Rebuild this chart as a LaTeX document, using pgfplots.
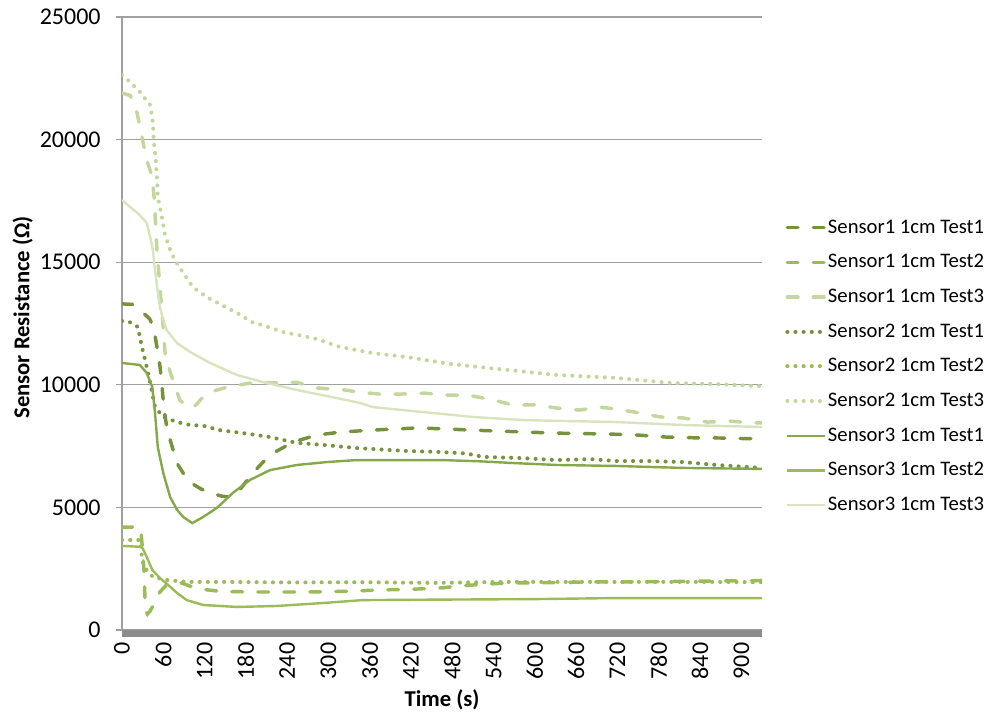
\documentclass[border=0pt]{standalone}
\usepackage{fontspec}
\setmainfont{Carlito}
\usepackage{pgfplots}
\pgfplotsset{compat=1.18}
\definecolor{gdark}{HTML}{76923C}
\definecolor{gmid}{HTML}{9BBB59}
\definecolor{glight}{HTML}{C3D69B}
\definecolor{gsol}{HTML}{84A84A}
\definecolor{gpale}{HTML}{D7E4BD}
\definecolor{gridc}{HTML}{A0A0A0}
\definecolor{barc}{HTML}{8C8C8C}
\begin{document}
\begin{tikzpicture}
\begin{axis}[
  scale only axis, width=480pt, height=459.75pt,
  xmin=0, xmax=930, ymin=0, ymax=25000,
  xtick={0,60,...,900}, ytick={0,5000,...,25000},
  axis x line*=bottom, axis y line*=left,
  x axis line style={draw=none},
  y axis line style={gridc, line width=1pt, -},
  ymajorgrids, grid style={gridc, line width=1pt},
  tick align=outside, major tick length=4.5pt,
  ytick style={gridc, line width=1pt},
  xtick style={draw=none},
  /pgf/number format/assume math mode=true,
  scaled y ticks=false, yticklabel style={/pgf/number format/1000 sep={}, font=\fontsize{18}{18}\selectfont, xshift=-8pt},
  xticklabel style={rotate=90, anchor=east, font=\fontsize{18}{18}\selectfont, xshift=-1.5pt},
  xlabel={\textbf{Time (s)}}, ylabel={\textbf{Sensor Resistance (Ω)}},
  xlabel style={at={(axis description cs:0.5,-0.1142)}, anchor=center, font=\fontsize{17}{17}\selectfont},
  ylabel style={at={(axis description cs:-0.155,0.51)}, anchor=center, font=\fontsize{17}{17}\selectfont},
  legend style={at={(axis description cs:1.036,0.43)}, anchor=west, draw=none, fill=none,
    font=\fontsize{15.5}{15.5}\selectfont, inner sep=0pt,
    nodes={inner sep=1pt, text height=11pt, text depth=3pt}, row sep=10pt},
  legend cell align=left,
  legend image code/.code={\draw[#1] (0pt,0pt) -- (28pt,0pt);},
  dsh/.style={line width=2.6pt, line cap=round, dash pattern=on 8pt off 11.5pt},
  dtt/.style={line width=3pt, line cap=round, dash pattern=on 0.1pt off 6pt},
  sld/.style={line width=1.8pt},
  after end axis/.append code={\fill[barc] (rel axis cs:0,0) rectangle ([yshift=-5.25pt]rel axis cs:1,0);},
]
\addplot[dsh, gdark] coordinates {(0,13300)(15,13280)(25,13050)(32,12900)(40,12700)(45,12400)(48,12000)(51,11500)(55,10800)(58,10000)(61,9000)(65,8300)(70,7750)(80,6800)(90,6350)(100,6000)(115,5750)(128,5590)(145,5460)(157,5420)(172,5750)(190,6400)(205,6850)(220,7220)(249,7670)(283,7950)(317,8070)(350,8130)(390,8190)(430,8240)(470,8200)(510,8150)(560,8100)(600,8060)(630,8030)(670,8010)(710,7990)(750,7950)(790,7870)(830,7840)(870,7830)(930,7790)};
\addlegendentry{Sensor1 1cm Test1}
\addplot[dsh, gmid] coordinates {(0,4200)(26,4200)(28,3900)(30,3200)(32,2400)(34,800)(37,650)(41,780)(47,1100)(55,1550)(65,1850)(75,1960)(85,1930)(100,1780)(120,1650)(145,1570)(200,1550)(270,1550)(330,1580)(370,1630)(420,1660)(466,1720)(490,1800)(530,1870)(560,1920)(620,1930)(680,1960)(740,1960)(800,1980)(860,2000)(930,2020)};
\addlegendentry{Sensor1 1cm Test2}
\addplot[dsh, glight] coordinates {(0,21900)(12,21800)(22,21080)(29,20100)(36,19170)(44,18470)(47,17530)(49,16430)(51,15400)(54,14390)(57,13330)(60,12310)(63,11130)(74,10190)(84,9380)(95,9100)(103,9050)(123,9660)(152,9900)(186,10070)(225,10080)(254,10100)(283,9870)(321,9800)(341,9710)(375,9620)(404,9620)(440,9660)(472,9580)(503,9580)(539,9380)(568,9180)(603,9180)(632,9050)(665,8970)(694,9090)(719,9010)(753,8850)(782,8690)(815,8650)(851,8480)(883,8520)(917,8440)(930,8450)};
\addlegendentry{Sensor1 1cm Test3}
\addplot[dtt, gdark] coordinates {(0,12600)(11,12560)(23,12360)(29,11540)(36,10720)(41,10070)(48,9090)(60,8690)(80,8480)(99,8360)(118,8330)(142,8150)(176,8030)(215,7870)(254,7630)(292,7550)(341,7420)(365,7380)(414,7300)(462,7260)(500,7200)(525,7060)(582,7010)(632,6930)(680,6970)(719,6890)(767,6890)(815,6850)(864,6730)(930,6610)};
\addlegendentry{Sensor2 1cm Test1}
\addplot[dtt, gmid] coordinates {(0,3670)(26,3670)(29,3000)(32,2570)(45,2160)(65,2040)(94,1960)(150,1960)(250,1940)(350,1950)(450,1920)(550,1960)(650,1960)(750,1960)(850,1960)(930,1950)};
\addlegendentry{Sensor2 1cm Test2}
\addplot[dtt, glight] coordinates {(0,22630)(12,22350)(26,21940)(41,21410)(45,20680)(46,19980)(49,19170)(51,18350)(52,17660)(58,16840)(62,16190)(70,15500)(77,15090)(89,14560)(103,13990)(123,13580)(145,13250)(167,12930)(189,12560)(212,12360)(234,12150)(256,12030)(283,11870)(317,11540)(365,11290)(414,11130)(477,10850)(535,10680)(632,10400)(719,10280)(800,10070)(864,10030)(920,9950)(930,9950)};
\addlegendentry{Sensor2 1cm Test3}
\addplot[sld, gsol] coordinates {(0,10890)(26,10810)(36,10480)(44,9910)(48,8850)(52,7460)(60,6400)(70,5420)(80,4900)(89,4610)(102,4360)(118,4610)(138,4980)(161,5590)(186,6120)(215,6520)(254,6730)(298,6850)(341,6930)(400,6930)(465,6930)(520,6880)(568,6810)(632,6730)(719,6690)(815,6610)(930,6570)};
\addlegendentry{Sensor3 1cm Test1}
\addplot[sld, gmid] coordinates {(0,3430)(29,3390)(36,2980)(44,2450)(55,2120)(67,1840)(80,1510)(94,1220)(118,1020)(167,940)(225,980)(292,1100)(350,1220)(466,1240)(600,1260)(710,1300)(930,1300)};
\addlegendentry{Sensor3 1cm Test2}
\addplot[sld, gpale] coordinates {(0,17530)(26,16920)(36,16600)(41,16020)(45,15500)(47,14900)(51,14000)(55,13170)(60,12640)(65,12230)(74,11910)(80,11700)(99,11340)(128,10890)(167,10400)(205,10110)(254,9790)(312,9460)(346,9260)(365,9090)(437,8890)(510,8690)(583,8560)(719,8480)(815,8360)(930,8280)};
\addlegendentry{Sensor3 1cm Test3}
\end{axis}
\path[use as bounding box] (-91.5pt,-63pt) rectangle (649.5pt,472.5pt);
\end{tikzpicture}
\end{document}
